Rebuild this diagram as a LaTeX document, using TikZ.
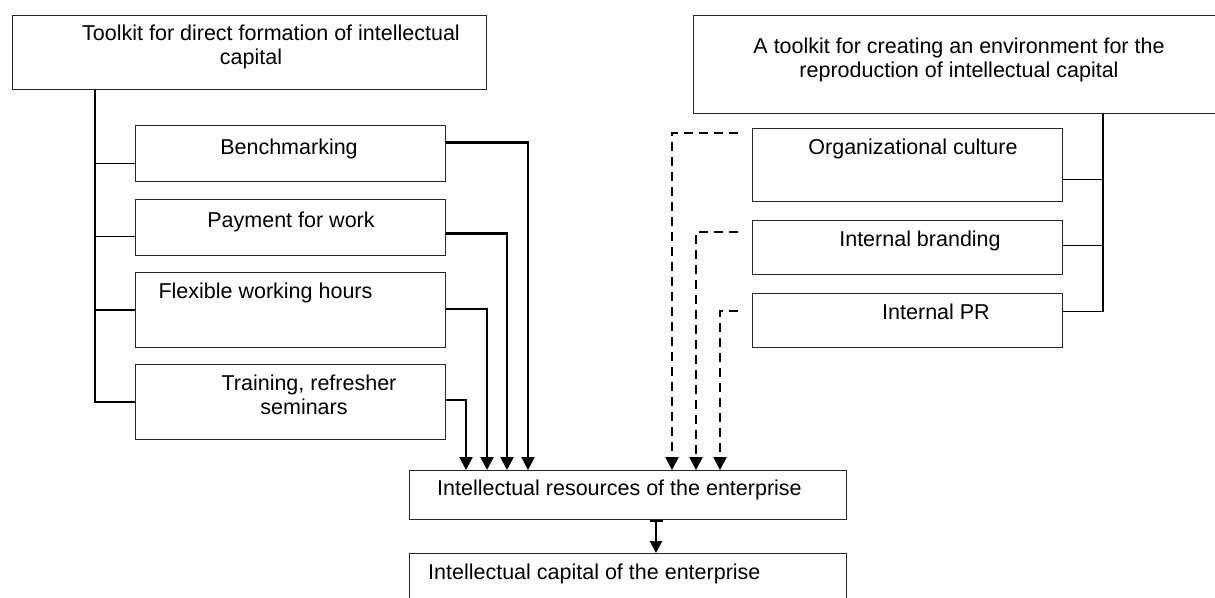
\documentclass[tikz,border=0pt]{standalone}
\usepackage{fontspec}
\setmainfont{Liberation Sans}
\usetikzlibrary{arrows.meta}
\begin{document}
\begin{tikzpicture}[x=1pt,y=-1pt,
 box/.style={draw=black!85, line width=1pt, inner sep=0pt, anchor=north west},
 lbl/.style={font=\fontsize{21.5}{23.5}\selectfont, inner sep=0pt, anchor=base, align=center},
 link/.style={line width=1.5pt},
 arr/.style={line width=2.2pt, -{Triangle[length=13pt,width=13pt]}},
 darr/.style={line width=2.6pt, dash pattern=on 9pt off 6pt, -{Triangle[length=13pt,width=13pt]}}]
\useasboundingbox (0,0) rectangle (1215,597);

% boxes
\node[box, minimum width=474pt, minimum height=74pt] (tl) at (12,15) {};
\node[box, minimum width=310pt, minimum height=56pt] (bench) at (135,125) {};
\node[box, minimum width=310pt, minimum height=56pt] (pay) at (135,199) {};
\node[box, minimum width=310pt, minimum height=75pt] (flex) at (135,272) {};
\node[box, minimum width=310pt, minimum height=75pt] (train) at (135,364) {};
\node[box, minimum width=437pt, minimum height=49pt] (res) at (409,470) {};
\node[box, minimum width=437pt, minimum height=60pt] (cap) at (409,553) {};
\node[box, minimum width=540pt, minimum height=98pt] (tr) at (693,15) {};
\node[box, minimum width=310pt, minimum height=73pt] (org) at (752,128) {};
\node[box, minimum width=310pt, minimum height=54pt] (brand) at (752,220) {};
\node[box, minimum width=310pt, minimum height=54pt] (pr) at (752,293) {};

% texts (multi-line nodes: base = last line)
\node[lbl] (ttl) at (251,64) {\hspace*{40pt}Toolkit for direct formation of intellectual\\capital};
\node[lbl] (tbench) at (289,154) {Benchmarking};
\node[lbl] (tpay) at (291,227) {Payment for work};
\node[lbl] (tflex) at (265.5,298) {Flexible working hours};
\node[lbl] (ttrain) at (304,414) {\hspace*{10pt}Training, refresher\\seminars};
\node[lbl, anchor=base west] (tres) at (437,495) {Intellectual resources of the enterprise};
\node[lbl, anchor=base west] (tcap) at (428,579) {Intellectual capital of the enterprise};
\node[lbl] (ttr) at (959,77) {A toolkit for creating an environment for the\\reproduction of intellectual capital};
\node[lbl] (torg) at (913,154) {Organizational culture};
\node[lbl] (tbrand) at (920,246) {Internal branding};
\node[lbl] (tpr) at (936,319) {Internal PR};

% left spine
\coordinate (ls) at ([xshift=83pt]tl.south west);
\coordinate (lb) at ([yshift=-10pt]bench.west);
\coordinate (lp) at ([yshift=-9pt]pay.west);
\draw[link] (ls) |- (train.west);
\draw[link] (lb) -- (lb -| ls);
\draw[link] (lp) -- (lp -| ls);
\draw[link] (flex.west) -- (flex.west -| ls);

% solid arrows
\draw[arr] ([yshift=11pt]bench.east) -| ([xshift=119pt]res.north west);
\draw[arr] ([yshift=-6pt]pay.east) -| ([xshift=98pt]res.north west);
\draw[arr] ([yshift=1pt]flex.east) -| ([xshift=78pt]res.north west);
\draw[arr] ([yshift=2pt]train.east) -| ([xshift=57pt]res.north west);

% right spine
\coordinate (rs) at ([xshift=410pt]tr.south west);
\coordinate (ro) at ([yshift=-14.5pt]org.east);
\coordinate (rb) at ([yshift=2pt]brand.east);
\coordinate (rp) at ([yshift=9pt]pr.east);
\draw[link] (rs) |- (rp);
\draw[link] (ro) -- (ro -| rs);
\draw[link] (rb) -- (rb -| rs);

% dashed arrows
\coordinate (do) at ([xshift=-14pt,yshift=-5pt]org.north west);
\coordinate (db) at ([xshift=-14pt,yshift=-12pt]brand.north west);
\coordinate (dp) at ([xshift=-14pt,yshift=-18pt]pr.north west);
\draw[darr] (do) -| ([xshift=263pt]res.north west);
\draw[darr] (db) -| ([xshift=287pt]res.north west);
\draw[darr] (dp) -| ([xshift=311pt]res.north west);

% resources to capital
\draw[line width=2.2pt, {Bar[width=13pt,line width=2pt]}-{Triangle[length=12pt,width=12pt]}] ([xshift=247pt]res.south west) -- ([xshift=247pt]cap.north west);
\end{tikzpicture}
\end{document}
